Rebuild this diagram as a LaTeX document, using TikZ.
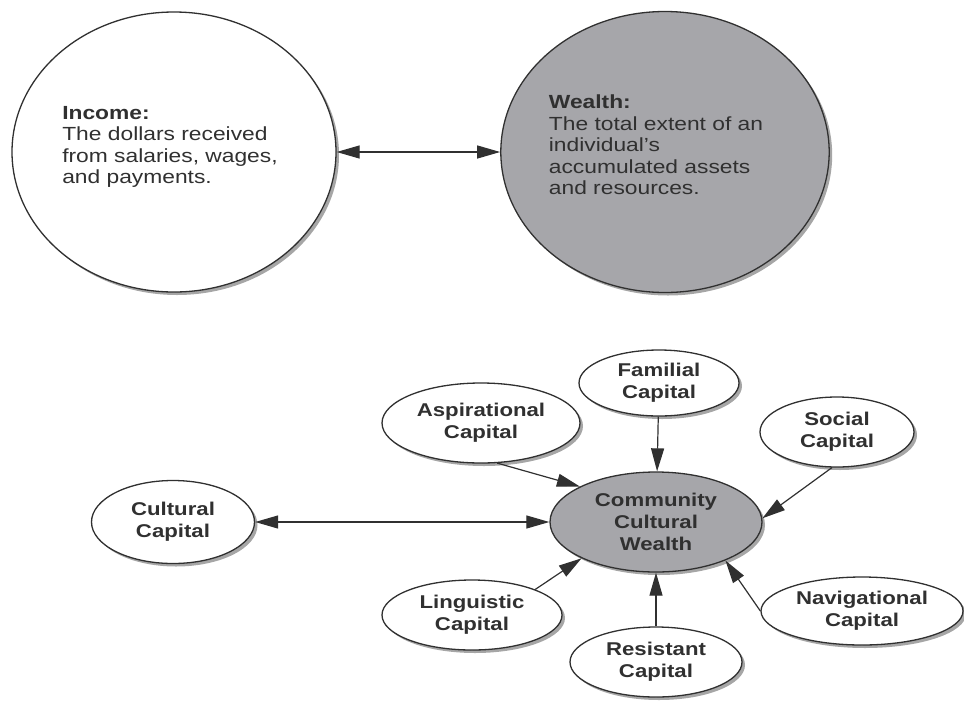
\documentclass[tikz,border=0pt]{standalone}
\usepackage{fontspec}
\setmainfont{Liberation Sans}[FakeStretch=1.2]
\usetikzlibrary{shapes.geometric, arrows.meta, shadows}

\definecolor{fillgray}{RGB}{166,166,170}
\definecolor{inkgray}{RGB}{48,48,48}

\begin{document}
\begin{tikzpicture}[x=1pt,y=-1pt,>={Triangle[length=23pt,width=13pt]},
  bubble/.style={draw=inkgray,line width=1.3pt,ellipse,fill=white,inner sep=0pt,text=inkgray,
    drop shadow={shadow xshift=3pt,shadow yshift=-3pt,fill=black!35,opacity=1}},
  bigbubble/.style={bubble,align=left,text depth=14pt,font=\fontsize{19}{21.5}\selectfont},
  capital/.style={bubble,align=center,font=\fontsize{18.5}{22}\selectfont\bfseries},
  link/.style={draw=inkgray,line width=1.2pt}]
  \useasboundingbox (0,0) rectangle (964,702);

  % income vs wealth
  \node[bigbubble,minimum width=324pt,minimum height=280pt] (income) at (174,152)
    {\textbf{Income:}\\The dollars received\\from salaries, wages,\rule{8pt}{0pt}\\and payments.};
  \node[bigbubble,fill=fillgray,minimum width=325pt,minimum height=281pt] (wealth) at (665,152)
    {\textbf{Wealth:}\\The total extent of an\rule{18pt}{0pt}\\individual's\\accumulated assets\\and resources.};
  \draw[link,<->] (income) -- (wealth);

  % community cultural wealth
  \node[capital,fill=fillgray,minimum width=212pt,minimum height=100pt] (ccw) at (656,522) {Community\\Cultural\\Wealth};
  \node[capital,minimum width=160pt,minimum height=66pt] (familial) at (659,383) {Familial\\Capital};
  \node[capital,minimum width=198pt,minimum height=80pt] (aspirational) at (481,423) {Aspirational\\Capital};
  \node[capital,minimum width=154pt,minimum height=70pt] (social) at (837,432) {Social\\Capital};
  \node[capital,minimum width=163pt,minimum height=83pt] (cultural) at (173,522) {Cultural\\Capital};
  \node[capital,minimum width=180pt,minimum height=70pt] (linguistic) at (472,615) {Linguistic\\Capital};
  \node[capital,minimum width=172pt,minimum height=70pt] (resistant) at (656,662) {Resistant\\Capital};
  \node[capital,minimum width=202pt,minimum height=68pt] (navigational) at (862,611) {Navigational\\Capital};

  \draw[link,<->] (cultural) -- (ccw);
  \draw[link,->] (aspirational.-68) -- (ccw.155);
  \draw[link,->] (familial) -- (ccw);
  \draw[link,->] (social.-98) -- (ccw.2);
  \draw[link,->] (navigational.west) -- (ccw.-29);
  \draw[link,->] (resistant) -- (ccw);
  \draw[link,->] (linguistic.22) -- (ccw.-154);
\end{tikzpicture}
\end{document}
